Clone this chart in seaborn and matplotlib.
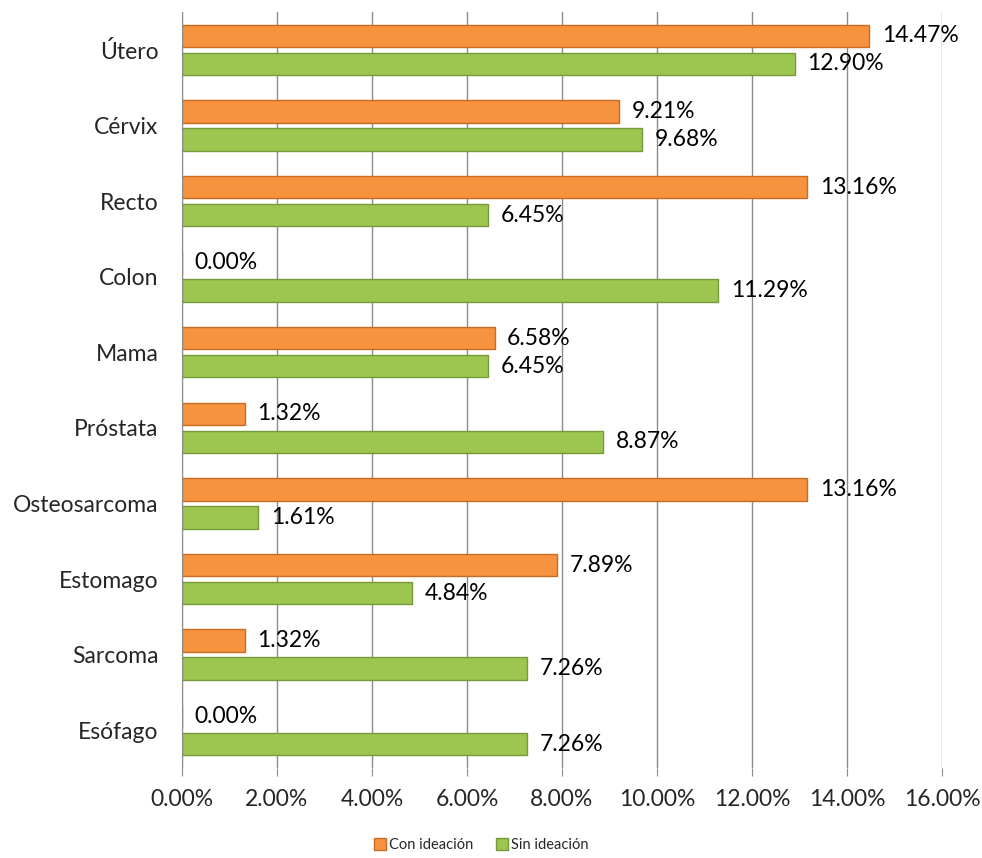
import pandas as pd
import numpy as np
import matplotlib
matplotlib.use("Agg")
import matplotlib.pyplot as plt
import seaborn as sns
from matplotlib.ticker import FuncFormatter, MultipleLocator
from matplotlib.patches import Patch

# --- data ---
tipos = ['Útero', 'Cérvix', 'Recto', 'Colon', 'Mama', 'Próstata',
         'Osteosarcoma', 'Estomago', 'Sarcoma', 'Esófago']
con_ideacion = [14.47, 9.21, 13.16, 0.00, 6.58, 1.32, 13.16, 7.89, 1.32, 0.00]
sin_ideacion = [12.90, 9.68, 6.45, 11.29, 6.45, 8.87, 1.61, 4.84, 7.26, 7.26]
series = ['Con ideación', 'Sin ideación']
colores = ['#F7923F', '#9DC651']
bordes = ['#C96B22', '#76993A']

df = pd.DataFrame({
    'Tipo': tipos * 2,
    'Porcentaje': con_ideacion + sin_ideacion,
    'Grupo': [series[0]] * len(tipos) + [series[1]] * len(tipos),
})

sns.set_style('white')
plt.rcParams['font.family'] = ['Lato', 'DejaVu Sans']

fig = plt.figure(figsize=(9.82, 8.58), dpi=100)
ax = fig.add_axes([0.1853, 0.1049, 0.774, 0.881])

sns.barplot(data=df, y='Tipo', x='Porcentaje', hue='Grupo', order=tipos,
            hue_order=series, palette=colores, saturation=1, orient='h',
            width=0.74, gap=0.2, legend=False, ax=ax, linewidth=1)

# darker edges per series + value labels
for cont, borde in zip(ax.containers, bordes):
    for barra in cont:
        barra.set_edgecolor(borde)
    ax.bar_label(cont, labels=[f'{v:.2f}%' for v in cont.datavalues],
                 padding=9, fontsize=16.5, color='black')

ax.set_xlim(0, 16)
ax.set_ylim(len(tipos) - 0.5, -0.5)
ax.xaxis.set_major_locator(MultipleLocator(2))
ax.xaxis.set_major_formatter(FuncFormatter(lambda v, p: f'{v:.2f}%'))
ax.grid(axis='x', color='#8C8C8C', linewidth=1)
ax.set_axisbelow(True)
ax.set_xlabel('')
ax.set_ylabel('')

for lado in ['top', 'right', 'bottom']:
    ax.spines[lado].set_visible(False)
ax.spines['left'].set_color('#8C8C8C')

# category boundary ticks on y axis
ax.set_yticks(np.arange(len(tipos)))
ax.set_yticklabels(tipos, fontsize=16.5)
ax.set_yticks(np.arange(len(tipos) + 1) - 0.5, minor=True)
ax.tick_params(axis='y', which='major', length=0, pad=17)
ax.tick_params(axis='y', which='minor', length=6, color='#8C8C8C', direction='out')
ax.tick_params(axis='x', length=6, color='#8C8C8C', direction='out', labelsize=16.5, pad=9)
ax.tick_params(axis='x', bottom=True)

handles = [Patch(facecolor=c, edgecolor=b, label=s) for c, b, s in zip(colores, bordes, series)]
fig.legend(handles=handles, loc='center', bbox_to_anchor=(0.49, 0.015), ncol=2,
           frameon=False, fontsize=10.5, handlelength=0.8, handleheight=0.8,
           handletextpad=0.2, columnspacing=1.6)

plt.savefig('out.png', dpi=100)
